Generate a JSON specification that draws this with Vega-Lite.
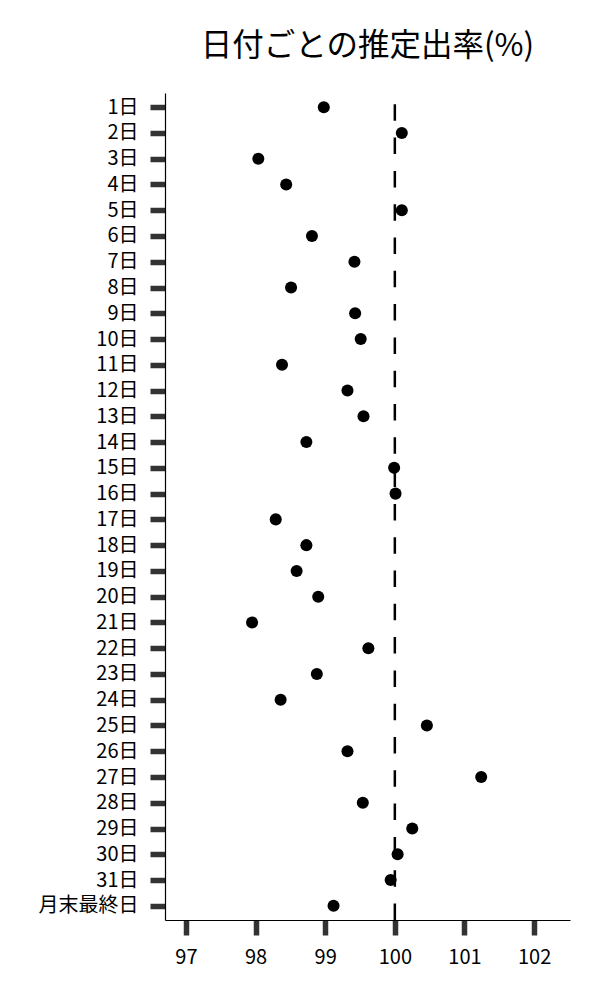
{
  "$schema": "https://vega.github.io/schema/vega-lite/v6.json",
  "width": 405,
  "height": 827,
  "autosize": {"type": "none"},
  "padding": {"left": 165, "top": 93, "right": 30, "bottom": 80},
  "background": "white",
  "config": {"view": {"stroke": null}},
  "title": {
    "text": "日付ごとの推定出率(%)",
    "anchor": "middle",
    "frame": "group",
    "font": "Noto Sans CJK JP",
    "fontSize": 31.5,
    "fontWeight": "normal",
    "color": "#000",
    "baseline": "alphabetic",
    "offset": 4
  },
  "layer": [
    {
      "data": {"values": [{"ref": 100}]},
      "mark": {"type": "rule", "color": "#000", "strokeWidth": 2.5, "strokeDash": [16.5, 16.8], "strokeDashOffset": 22},
      "encoding": {
        "x": {"field": "ref", "type": "quantitative", "scale": {"domain": [96.7, 102.515], "nice": false, "zero": false}}
      }
    },
    {
      "data": {
        "values": [
          {"day": "1日", "rate": 98.98},
          {"day": "2日", "rate": 100.10},
          {"day": "3日", "rate": 98.04},
          {"day": "4日", "rate": 98.44},
          {"day": "5日", "rate": 100.10},
          {"day": "6日", "rate": 98.81},
          {"day": "7日", "rate": 99.42},
          {"day": "8日", "rate": 98.51},
          {"day": "9日", "rate": 99.43},
          {"day": "10日", "rate": 99.51},
          {"day": "11日", "rate": 98.38},
          {"day": "12日", "rate": 99.32},
          {"day": "13日", "rate": 99.55},
          {"day": "14日", "rate": 98.73},
          {"day": "15日", "rate": 99.99},
          {"day": "16日", "rate": 100.01},
          {"day": "17日", "rate": 98.29},
          {"day": "18日", "rate": 98.73},
          {"day": "19日", "rate": 98.59},
          {"day": "20日", "rate": 98.90},
          {"day": "21日", "rate": 97.95},
          {"day": "22日", "rate": 99.62},
          {"day": "23日", "rate": 98.88},
          {"day": "24日", "rate": 98.36},
          {"day": "25日", "rate": 100.46},
          {"day": "26日", "rate": 99.32},
          {"day": "27日", "rate": 101.24},
          {"day": "28日", "rate": 99.54},
          {"day": "29日", "rate": 100.25},
          {"day": "30日", "rate": 100.04},
          {"day": "31日", "rate": 99.94},
          {"day": "月末最終日", "rate": 99.12}
        ]
      },
      "mark": {"type": "circle", "size": 145, "color": "#000", "opacity": 1},
      "encoding": {
        "x": {
          "field": "rate",
          "type": "quantitative",
          "scale": {"domain": [96.7, 102.515], "nice": false, "zero": false},
          "axis": {
            "title": null,
            "values": [97, 98, 99, 100, 101, 102],
            "format": "d",
            "grid": false,
            "domainColor": "#000",
            "domainWidth": 1.2,
            "tickColor": "#333",
            "tickWidth": 5.5,
            "tickSize": 15,
            "labelFont": "Noto Sans CJK JP",
            "labelFontSize": 20,
            "labelColor": "#000",
            "labelPadding": 12
          }
        },
        "y": {
          "field": "day",
          "type": "nominal",
          "sort": null,
          "scale": {"type": "point", "padding": 0.55},
          "axis": {
            "title": null,
            "grid": false,
            "domainColor": "#000",
            "domainWidth": 1.2,
            "tickColor": "#333",
            "tickWidth": 5.5,
            "tickSize": 15,
            "labelFont": "Noto Sans CJK JP",
            "labelFontSize": 20,
            "labelColor": "#000",
            "labelPadding": 12
          }
        }
      }
    }
  ]
}
